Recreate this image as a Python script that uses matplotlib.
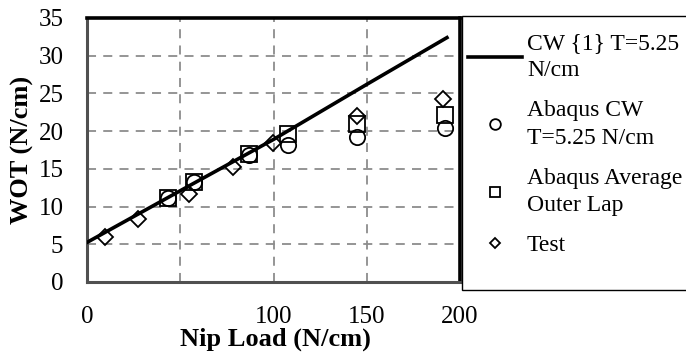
import matplotlib
matplotlib.use('Agg')
import matplotlib.pyplot as plt
from matplotlib.patches import Rectangle

plt.rcParams['font.family'] = ['Liberation Serif', 'DejaVu Serif']

# ---- data ----
cw_x = [0, 50, 100, 150, 193]
cw_y = [5.25, 12.1, 18.9, 26.2, 32.4]
abq_x = [43.5, 57.5, 87, 108, 145, 192]
abq_cw_y = [11.1, 13.2, 16.9, 18.1, 19.2, 20.4]
abq_avg_y = [11.2, 13.3, 17.0, 19.6, 20.9, 22.2]
test_x = [9.5, 27.5, 54.5, 78.5, 99.5, 145, 191]
test_y = [6.0, 8.3, 11.7, 15.2, 18.4, 22.0, 24.2]

x_ticks = [0, 50, 100, 150, 200]
x_ticklabels = ['0', '', '100', '150', '200']
y_ticks = [0, 5, 10, 15, 20, 25, 30, 35]

labels = ['CW {1} T=5.25\nN/cm', 'Abaqus CW\nT=5.25 N/cm',
          'Abaqus Average\nOuter Lap', 'Test']

W, H = 686, 354
fig = plt.figure(figsize=(W / 100, H / 100), dpi=100)
L, R, T, B = 87, 460, 18, 282
ax = fig.add_axes([L / W, 1 - B / H, (R - L) / W, (B - T) / H])

ln, = ax.plot(cw_x, cw_y, color='black', lw=2.6, label=labels[0], zorder=4)
c, = ax.plot(abq_x, abq_cw_y, ls='none', marker='o', ms=11, mfc='none',
             mec='black', mew=1.3, label=labels[1], zorder=3)
s, = ax.plot(abq_x, abq_avg_y, ls='none', marker='s', ms=11, mfc='none',
             mec='black', mew=1.3, label=labels[2], zorder=3)
d, = ax.plot(test_x, test_y, ls='none', marker='D', ms=8, mfc='none',
             mec='black', mew=1.3, label=labels[3], zorder=3)

ax.set_xlim(0, 200)
ax.set_ylim(0, 35)
ax.set_xticks(x_ticks)
ax.set_xticklabels(x_ticklabels)
ax.set_yticks(y_ticks)
ax.tick_params(axis='both', length=0, labelsize=18)
ax.tick_params(axis='x', pad=17)
ax.tick_params(axis='y', pad=17)

ax.grid(True, color='#8c8c8c', linestyle=(0, (5, 4)), linewidth=1.3)
ax.set_axisbelow(True)

for side in ['left', 'bottom']:
    ax.spines[side].set_color('#505050')
    ax.spines[side].set_linewidth(2.2)
for side in ['top', 'right']:
    ax.spines[side].set_color('black')
    ax.spines[side].set_linewidth(2.6)

ax.set_xlabel('Nip Load (N/cm)', fontsize=19, fontweight='bold', va='center')
ax.xaxis.set_label_coords((275 - L) / (R - L), (B - 339) / (B - T))
ax.set_ylabel('WOT (N/cm)', fontsize=19, fontweight='bold', va='center')
ax.yaxis.set_label_coords((22 - L) / (R - L), 0.5)

# legend box
fig.patches.append(Rectangle((462 / W, 1 - 290 / H), (W + 10 - 462) / W, (290 - 16) / H,
                             transform=fig.transFigure, fill=True, fc='white',
                             ec='black', lw=1.0, zorder=5))
leg = fig.legend([ln, c, s, d], labels, loc='upper left',
                 bbox_to_anchor=(468 / W, 1 - 33 / H), frameon=False,
                 fontsize=17, handlelength=2.3, handletextpad=0.2,
                 borderpad=0, borderaxespad=0, labelspacing=0.8,
                 markerscale=0.7)
for t in leg.get_texts():
    t.set_linespacing(1.4)
leg.set_zorder(6)

fig.savefig('out.png', dpi=100)
